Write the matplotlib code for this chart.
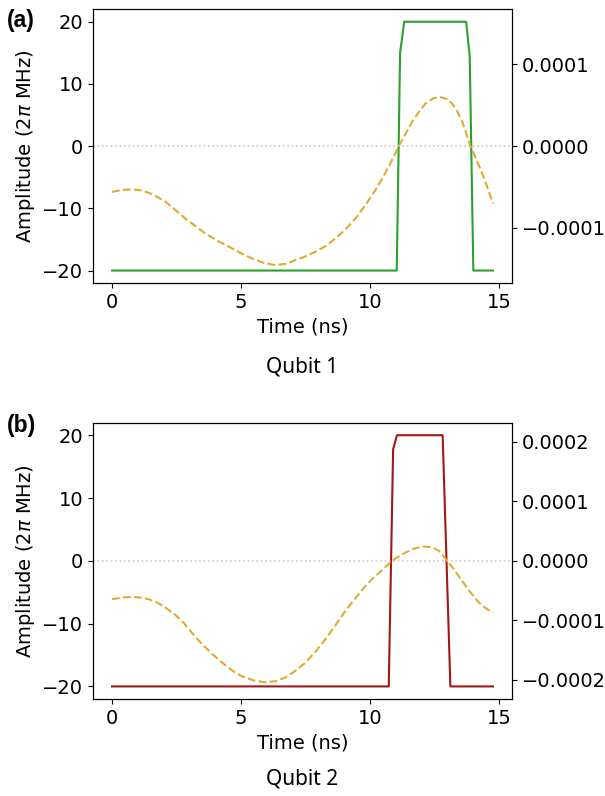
import matplotlib
matplotlib.use("Agg")
import matplotlib.pyplot as plt
import numpy as np

# ---- data ----
# Qubit 1 control pulse (2pi MHz)
t_pulse1 = [0.0, 11.04, 11.17, 11.33, 13.73, 13.87, 14.01, 14.77]
a_pulse1 = [-20, -20, 15, 20, 20, 14.5, -20, -20]
# Qubit 1 secondary signal (right axis)
t_sig1 = [0.0, 0.4, 0.78, 1.1, 1.42, 1.75, 2.07, 2.45, 2.84, 3.62, 4.1, 4.52, 5.0, 5.43, 5.9,
          6.33, 6.75, 7.11, 7.5, 7.89, 8.3, 8.66, 9.05, 9.44, 9.83, 10.21, 10.47, 10.73,
          11.12, 11.38, 11.64, 11.9, 12.15, 12.45, 12.73, 13.0, 13.19, 13.4, 13.58,
          13.90, 14.12, 14.35, 14.55, 14.77]
v_sig1 = [-0.56e-4, -0.535e-4, -0.53e-4, -0.54e-4, -0.57e-4, -0.62e-4, -0.68e-4, -0.78e-4,
          -0.885e-4, -1.07e-4, -1.16e-4, -1.23e-4, -1.31e-4, -1.375e-4, -1.43e-4,
          -1.457e-4, -1.44e-4, -1.395e-4, -1.35e-4, -1.293e-4, -1.22e-4, -1.13e-4,
          -1.02e-4, -0.885e-4, -0.72e-4, -0.54e-4, -0.40e-4, -0.25e-4,
          0.0, 0.15e-4, 0.30e-4, 0.42e-4, 0.52e-4, 0.585e-4, 0.60e-4, 0.575e-4, 0.52e-4,
          0.42e-4, 0.30e-4, 0.0, -0.16e-4, -0.33e-4, -0.50e-4, -0.70e-4]

# Qubit 2 control pulse
t_pulse2 = [0.0, 10.73, 10.90, 11.05, 12.82, 13.12, 14.77]
a_pulse2 = [-20, -20, 17.8, 20, 20, -20, -20]
# Qubit 2 secondary signal
t_sig2 = [0.0, 0.4, 0.78, 1.1, 1.42, 1.75, 2.07, 2.4, 2.72, 3.1, 3.49, 3.9, 4.27, 4.65,
          5.04, 5.5, 5.95, 6.35, 6.72, 7.1, 7.50, 7.9, 8.27, 8.65, 9.05, 9.45, 9.83,
          10.15, 10.47, 10.86, 11.1, 11.38, 11.75, 12.09, 12.4, 12.67, 13.0, 13.3,
          13.58, 13.9, 14.22, 14.5, 14.77]
v_sig2 = [-0.645e-4, -0.615e-4, -0.606e-4, -0.618e-4, -0.645e-4, -0.70e-4, -0.786e-4,
          -0.89e-4, -1.01e-4, -1.21e-4, -1.40e-4, -1.57e-4, -1.71e-4, -1.84e-4,
          -1.94e-4, -2.01e-4, -2.04e-4, -2.02e-4, -1.96e-4, -1.85e-4, -1.71e-4,
          -1.52e-4, -1.32e-4, -1.09e-4, -0.84e-4, -0.62e-4, -0.42e-4,
          -0.28e-4, -0.157e-4, 0.0, 0.07e-4, 0.14e-4, 0.21e-4, 0.24e-4, 0.23e-4, 0.17e-4,
          0.0, -0.17e-4, -0.34e-4, -0.53e-4, -0.70e-4, -0.80e-4, -0.87e-4]

xticks = [0, 5, 10, 15]
yticks = [-20, -10, 0, 10, 20]
rticks1 = [-1e-4, 0, 1e-4]
rticks2 = [-2e-4, -1e-4, 0, 1e-4, 2e-4]
ylabel = "Amplitude (2$\\pi$ MHz)"
xlabel = "Time (ns)"
panels = ["(a)", "(b)"]
captions = ["Qubit 1", "Qubit 2"]

plt.rcParams["font.family"] = ["DejaVu Sans"]
plt.rcParams["font.size"] = 14

fig = plt.figure(figsize=(6.05, 7.96), dpi=100)
left, width = 0.1537, 0.6926
ax1 = fig.add_axes([left, 0.6445, width, 0.3438])
ax2 = fig.add_axes([left, 0.1219, width, 0.3471])

dash_col = "#e2aa30"
configs = [
    (ax1, t_pulse1, a_pulse1, t_sig1, v_sig1, "#2ca02c", 1.675e-4, rticks1),
    (ax2, t_pulse2, a_pulse2, t_sig2, v_sig2, "#a01818", 2.32e-4, rticks2),
]

for i, (ax, tp, ap, ts, vs, col, lim, rt) in enumerate(configs):
    ax.plot(tp, ap, color=col, lw=1.5)
    ax.axhline(0, color="#cccccc", ls=":", lw=1.2)
    ax.set_xticks(xticks)
    ax.set_yticks(yticks)
    ax.set_ylim(-22, 22)
    ax.set_xlabel(xlabel)
    ax.set_ylabel(ylabel)
    axr = ax.twinx()
    axr.plot(ts, vs, color=dash_col, ls="--", lw=1.5)
    axr.set_ylim(-lim, lim)
    axr.set_yticks(rt)
    axr.set_yticklabels([f"{v:.4f}".replace("-", "\u2212") for v in rt])
    ax.set_xlim(-0.739, 15.51)

fig.text(0.011, 0.974, panels[0], fontsize=16.5, fontweight="bold",
         family=["Liberation Sans", "DejaVu Sans"], va="center", ha="left")
fig.text(0.011, 0.466, panels[1], fontsize=16.5, fontweight="bold",
         family=["Liberation Sans", "DejaVu Sans"], va="center", ha="left")
fig.text(0.5, 1 - 367 / 796, captions[0], fontsize=15, family="Noto Sans",
         ha="center", va="center")
fig.text(0.5, 1 - 779 / 796, captions[1], fontsize=15, family="Noto Sans",
         ha="center", va="center")

fig.savefig("out.png", dpi=100)
